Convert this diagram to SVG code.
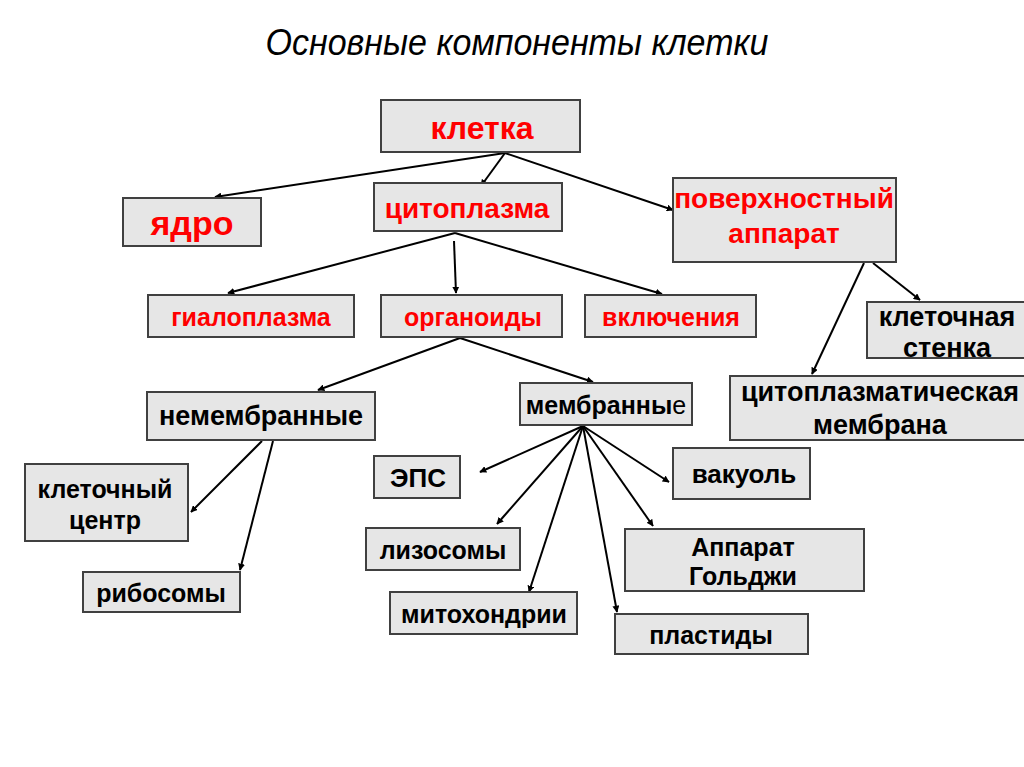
<svg xmlns="http://www.w3.org/2000/svg" width="1024" height="767" viewBox="0 0 1024 767">
<style>
.b{fill:#e6e6e6;stroke:#404040;stroke-width:2}
.t{font-family:"Liberation Sans",Arial,sans-serif;font-weight:bold;text-anchor:middle}
.r{fill:#ff0000}
.k{fill:#000}
.c line{stroke:#000;stroke-width:2;marker-end:url(#a)}
</style>
<defs><marker id="a" viewBox="0 0 10 10" refX="9" refY="5" markerWidth="7" markerHeight="7" orient="auto" markerUnits="userSpaceOnUse"><path d="M0,0L10,5L0,10z" fill="#000"/></marker></defs>
<rect width="1024" height="767" fill="#fff"/>
<text x="517" y="54" font-family="Liberation Sans,Arial,sans-serif" font-style="italic" font-size="34" text-anchor="middle" transform="translate(517 0) scale(1 1.1) translate(-517 -4)">Основные компоненты клетки</text>
<g class="c">
<line x1="505" y1="153" x2="215" y2="197"/>
<line x1="505" y1="153" x2="481" y2="186"/>
<line x1="505" y1="153" x2="673" y2="210"/>
<line x1="455" y1="233" x2="228" y2="293"/>
<line x1="454" y1="241" x2="456" y2="293"/>
<line x1="455" y1="233" x2="662" y2="294"/>
<line x1="864" y1="263" x2="812" y2="374"/>
<line x1="873" y1="263" x2="920" y2="300"/>
<line x1="460" y1="338" x2="318" y2="390"/>
<line x1="460" y1="338" x2="593" y2="382"/>
<line x1="262" y1="441" x2="191" y2="512"/>
<line x1="273" y1="441" x2="240" y2="570"/>
<line x1="583" y1="426" x2="480" y2="472"/>
<line x1="583" y1="426" x2="497" y2="524"/>
<line x1="583" y1="426" x2="529" y2="592"/>
<line x1="583" y1="426" x2="617" y2="612"/>
<line x1="583" y1="426" x2="653" y2="526"/>
<line x1="583" y1="426" x2="669" y2="482"/>
</g>
<g id="kletka"><rect class="b" x="381" y="100" width="199" height="52"/><text class="t r" x="482" y="139" font-size="32">клетка</text></g>
<g id="yadro"><rect class="b" x="123" y="198" width="138" height="48"/><text class="t r" x="192" y="235" font-size="34">ядро</text></g>
<g id="cyto"><rect class="b" x="374" y="183" width="188" height="48"/><text class="t r" x="467" y="218" font-size="28">цитоплазма</text></g>
<g id="surf"><rect class="b" x="673" y="178" width="223" height="84"/><text class="t r" x="784" y="208" font-size="28">поверхностный</text><text class="t r" x="784" y="243" font-size="28">аппарат</text></g>
<g id="gialo"><rect class="b" x="148" y="295" width="206" height="42"/><text class="t r" x="251" y="326" font-size="25">гиалоплазма</text></g>
<g id="org"><rect class="b" x="381" y="295" width="181" height="42"/><text class="t r" x="473" y="326" font-size="25">органоиды</text></g>
<g id="vkl"><rect class="b" x="585" y="295" width="171" height="42"/><text class="t r" x="671" y="326" font-size="25">включения</text></g>
<g id="wall"><rect class="b" x="867" y="302" width="160" height="56"/><text class="t k" x="947" y="326" font-size="27">клеточная</text><text class="t k" x="947" y="357" font-size="27">стенка</text></g>
<g id="cpm"><rect class="b" x="730" y="376" width="298" height="64"/><text class="t k" x="880" y="401" font-size="27">цитоплазматическая</text><text class="t k" x="880" y="434" font-size="27">мембрана</text></g>
<g id="nemem"><rect class="b" x="147" y="392" width="228" height="48"/><text class="t k" x="261" y="425" font-size="27">немембранные</text></g>
<g id="mem"><rect class="b" x="520" y="383" width="172" height="42"/><text class="t k" x="606" y="414" font-size="25">мембранны<tspan font-weight="normal">е</tspan></text></g>
<g id="center"><rect class="b" x="25" y="464" width="163" height="77"/><text class="t k" x="105" y="498" font-size="25">клеточный</text><text class="t k" x="105" y="529" font-size="25">центр</text></g>
<g id="ribo"><rect class="b" x="83" y="572" width="157" height="40"/><text class="t k" x="161" y="602" font-size="25">рибосомы</text></g>
<g id="eps"><rect class="b" x="374" y="456" width="86" height="42"/><text class="t k" x="418" y="487" font-size="26">ЭПС</text></g>
<g id="lizo"><rect class="b" x="366" y="528" width="154" height="42"/><text class="t k" x="443" y="559" font-size="25">лизосомы</text></g>
<g id="mito"><rect class="b" x="390" y="592" width="187" height="42"/><text class="t k" x="484" y="623" font-size="25">митохондрии</text></g>
<g id="vac"><rect class="b" x="673" y="448" width="137" height="51"/><text class="t k" x="744" y="483" font-size="26">вакуоль</text></g>
<g id="golgi"><rect class="b" x="625" y="529" width="239" height="62"/><text class="t k" x="743" y="556" font-size="25">Аппарат</text><text class="t k" x="743" y="585" font-size="25">Гольджи</text></g>
<g id="plast"><rect class="b" x="615" y="614" width="193" height="40"/><text class="t k" x="711" y="644" font-size="25">пластиды</text></g>
</svg>
